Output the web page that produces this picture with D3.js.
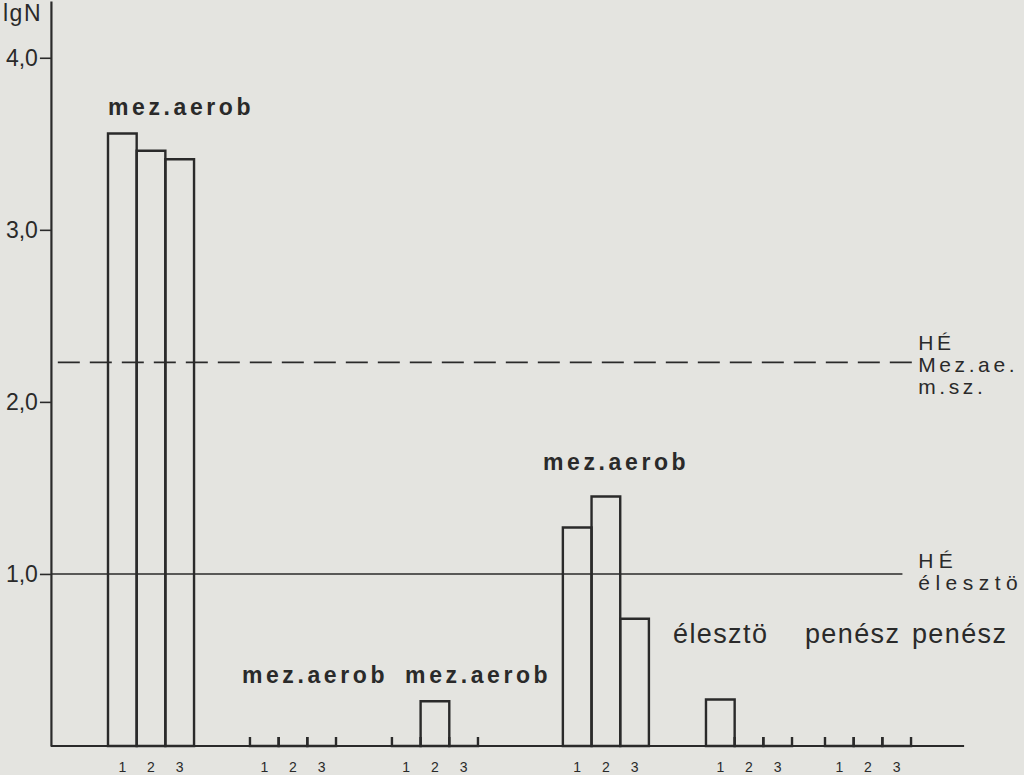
<!DOCTYPE html>
<html><head><meta charset="utf-8">
<script src="https://cdn.jsdelivr.net/npm/d3@7/dist/d3.min.js"></script>
<style>
html,body{margin:0;padding:0;background:#e4e4e0;}
svg{display:block;}
text{font-family:"Liberation Sans", Arial, Helvetica, sans-serif; fill:#2a2a2a;}
</style></head><body>
<svg id="chart" width="1024" height="775"></svg>
<script>
// ---- data ----
const groupIds = ["G1","G2","G3","G4","G5","G6"];
const sampleLabels = ["1","2","3"];
const valuesG1 = [3.56, 3.46, 3.41];
const valuesG2 = [0, 0, 0];
const valuesG3 = [0, 0.26, 0];
const valuesG4 = [1.27, 1.45, 0.74];
const valuesG5 = [0.27, 0, 0];
const valuesG6 = [0, 0, 0];
const seriesValues = [valuesG1, valuesG2, valuesG3, valuesG4, valuesG5, valuesG6];
const yTickValues = [1, 2, 3, 4];
const yTickLabels = ["1,0", "2,0", "3,0", "4,0"];
const yAxisTitle = "lgN";
const groupTitles = ["mez.aerob", "mez.aerob", "mez.aerob", "mez.aerob", "élesztö", "penész", "penész"];
const titleBold = [true, true, true, true, false, false, false];
const limitMezAerob = 2.23;   // HÉ Mez.ae. m.sz. (dashed)
const limitEleszto = 1.0;     // HÉ élesztö (solid)
const limitLabelMez = ["HÉ", "Mez.ae.", "m.sz."];
const limitLabelEl = ["HÉ", "élesztö"];

// ---- layout (slot units / value units, not data) ----
const groupStart = [0, 4.95, 9.9, 15.86, 20.85, 25.0];
const titlePos = [[0, 3.67], [4.67, 0.366], [10.36, 0.366], [15.17, 1.605], [19.7, 0.60], [24.3, 0.60], [28.03, 0.60]];

const ink = "#2a2a2a";
const svg = d3.select("#chart");

const y = d3.scaleLinear().domain([0, 4.33]).range([746, 1]);
const x = d3.scaleLinear().domain([0, 25]).range([108, 825]);

// y axis
const yAxis = d3.axisLeft(y).tickValues(yTickValues)
  .tickFormat((d, i) => yTickLabels[i]).tickSize(11).tickSizeOuter(0).tickPadding(2);
const ya = svg.append("g").attr("transform", `translate(${x(-1.99)},0)`).call(yAxis);
ya.select(".domain").attr("stroke", ink).attr("stroke-width", 2.2);
ya.selectAll(".tick line").attr("stroke", ink).attr("stroke-width", 1.6);
ya.selectAll(".tick text").attr("font-size", 23).attr("fill", "#2a2a2a")
  .style("font-family", '"Liberation Sans", Arial, sans-serif');

svg.append("text").attr("x", 3).attr("y", 21).attr("font-size", 23)
  .attr("letter-spacing", 1.5).text(yAxisTitle);

// x baseline
svg.append("line").attr("x1", x(-1.99)).attr("x2", x(29.85))
  .attr("y1", y(0)).attr("y2", y(0)).attr("stroke", ink).attr("stroke-width", 2.2);

// limit lines
svg.append("line").attr("x1", x(-1.75)).attr("x2", x(28.1))
  .attr("y1", y(limitMezAerob)).attr("y2", y(limitMezAerob))
  .attr("stroke", ink).attr("stroke-width", 1.8).attr("stroke-dasharray", "22,10");
svg.append("line").attr("x1", x(-1.99)).attr("x2", x(27.7))
  .attr("y1", y(limitEleszto)).attr("y2", y(limitEleszto))
  .attr("stroke", ink).attr("stroke-width", 1.6);

const labMez = svg.append("text").attr("x", x(28.25)).attr("y", y(limitMezAerob) - 12)
  .attr("font-size", 21).attr("letter-spacing", 3.6);
labMez.selectAll("tspan").data(limitLabelMez).join("tspan")
  .attr("x", x(28.25)).attr("dy", (d, i) => i === 0 ? 0 : 22).text(d => d);
const labEl = svg.append("text").attr("x", x(28.25)).attr("y", y(limitEleszto) - 6)
  .attr("font-size", 21).attr("letter-spacing", 5.5);
labEl.selectAll("tspan").data(limitLabelEl).join("tspan")
  .attr("x", x(28.25)).attr("dy", (d, i) => i === 0 ? 0 : 22).text(d => d);

// bars
const bars = [];
seriesValues.forEach((vals, gi) => {
  vals.forEach((v, si) => bars.push({ g: groupIds[gi], gi, si, v, s: groupStart[gi] + si }));
});

const barG = svg.append("g");
barG.selectAll("path.bar").data(bars).join("path").attr("class", "bar")
  .attr("fill", "none").attr("stroke", ink).attr("stroke-width", 2.4)
  .attr("stroke-linejoin", "miter")
  .attr("d", d => {
    const x0 = x(d.s), x1 = x(d.s + 1), y0 = y(0);
    if (d.v > 0) {
      return `M${x0},${y0}V${y(d.v)}H${x1}V${y0}Z`;
    }
    // zero value: short ticks at both edges on the baseline
    return `M${x0},${y0 - 9}V${y0}H${x1}V${y0 - 9}`;
  });

// sample number labels
svg.append("g").selectAll("text").data(bars).join("text")
  .attr("x", d => x(d.s + 0.5)).attr("y", 772)
  .attr("text-anchor", "middle").attr("font-size", 14)
  .text(d => sampleLabels[d.si]);

// group titles
svg.append("g").selectAll("text").data(groupTitles).join("text")
  .attr("x", (d, i) => x(titlePos[i][0])).attr("y", (d, i) => y(titlePos[i][1]))
  .attr("font-size", (d, i) => titleBold[i] ? 23 : 27)
  .attr("font-weight", (d, i) => titleBold[i] ? "bold" : "normal")
  .attr("letter-spacing", (d, i) => titleBold[i] ? 3.6 : 1.4)
  .text(d => d);
</script>
</body></html>
